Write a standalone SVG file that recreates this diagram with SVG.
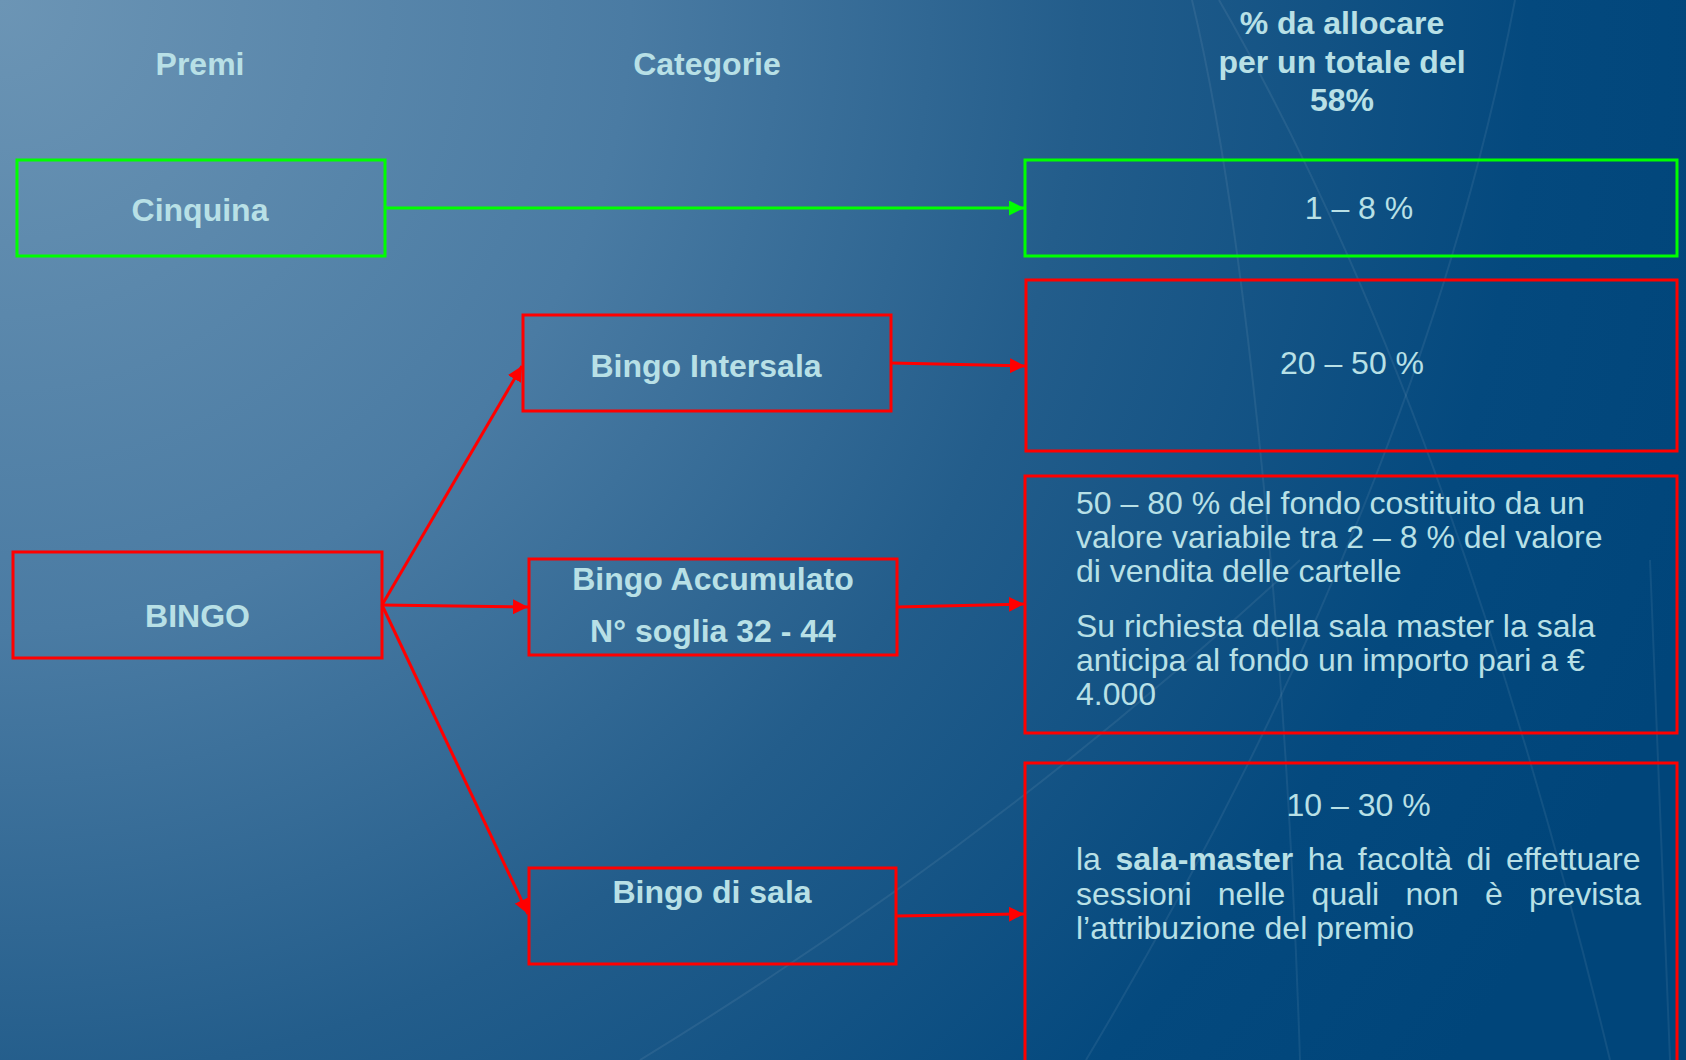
<svg xmlns="http://www.w3.org/2000/svg" width="1686" height="1060" viewBox="0 0 1686 1060">
<defs>
<radialGradient id="bg" gradientUnits="userSpaceOnUse" cx="0" cy="0" r="1800">
<stop offset="0" stop-color="#6c95b5"/>
<stop offset="0.35" stop-color="#4a7ba3"/>
<stop offset="0.6" stop-color="#235d8b"/>
<stop offset="0.85" stop-color="#04497e"/>
<stop offset="1" stop-color="#00457a"/>
</radialGradient>
<marker id="ag" viewBox="0 0 15 15" refX="15" refY="7.5" markerWidth="15" markerHeight="15" markerUnits="userSpaceOnUse" orient="auto"><path d="M0,0 L15,7.5 L0,15 z" fill="#00ff00"/></marker>
<marker id="ar" viewBox="0 0 15 15" refX="15" refY="7.5" markerWidth="15" markerHeight="15" markerUnits="userSpaceOnUse" orient="auto"><path d="M0,0 L15,7.5 L0,15 z" fill="#ff0000"/></marker>
</defs>
<style>
text{font-family:"Liberation Sans",Arial,sans-serif;font-size:32px;fill:#b8e0e6}
.b{font-weight:bold}
.c{text-anchor:middle}
.box{fill:none;stroke-width:3}
.g{stroke:#00ff00}
.r{stroke:#ff0000}
.deco{fill:none;stroke:#ffffff;stroke-opacity:0.07;stroke-width:2}
.ln{fill:none;stroke-width:3}
</style>
<rect width="1686" height="1060" fill="url(#bg)"/>
<g id="decor">
<path class="deco" d="M1192,0 C1240,200 1285,600 1300,1060"/>
<path class="deco" d="M1219,0 Q1450,400 1610,1060"/>
<path class="deco" d="M1515,0 Q1420,500 1086,1060"/>
<path class="deco" d="M640,1060 Q1000,840 1300,560"/>
<path class="deco" d="M1650,560 L1670,1060"/>
</g>
<g id="headers">
<text class="b c" x="200" y="75">Premi</text>
<text class="b c" x="707" y="75">Categorie</text>
<text class="b c" x="1342" y="34">% da allocare</text>
<text class="b c" x="1342" y="72.5">per un totale del</text>
<text class="b c" x="1342" y="111">58%</text>
</g>
<g id="connectors">
<line class="ln g" x1="385" y1="208" x2="1024" y2="208" marker-end="url(#ag)"/>
<line class="ln r" x1="891" y1="363" x2="1025" y2="366" marker-end="url(#ar)"/>
<line class="ln r" x1="382" y1="605" x2="522" y2="366" marker-end="url(#ar)"/>
<line class="ln r" x1="382" y1="605" x2="528" y2="607" marker-end="url(#ar)"/>
<line class="ln r" x1="382" y1="605" x2="528" y2="914" marker-end="url(#ar)"/>
<line class="ln r" x1="897" y1="607" x2="1024" y2="604" marker-end="url(#ar)"/>
<line class="ln r" x1="896" y1="916" x2="1024" y2="914" marker-end="url(#ar)"/>
</g>
<g id="cinquina">
<rect class="box g" x="17" y="160" width="368" height="96"/>
<text class="b c" x="200" y="221">Cinquina</text>
</g>
<g id="pct-cinquina">
<rect class="box g" x="1025" y="160" width="652" height="96"/>
<text class="c" x="1359" y="219">1 – 8 %</text>
</g>
<g id="bingo">
<rect class="box r" x="13" y="552" width="369" height="106"/>
<text class="b c" x="197.5" y="627">BINGO</text>
</g>
<g id="bingo-intersala">
<rect class="box r" x="523" y="315" width="368" height="96"/>
<text class="b c" x="706" y="377">Bingo Intersala</text>
</g>
<g id="pct-intersala">
<rect class="box r" x="1026" y="280" width="651" height="171"/>
<text class="c" x="1352" y="374">20 – 50 %</text>
</g>
<g id="bingo-accumulato">
<rect class="box r" x="529" y="559" width="368" height="96"/>
<text class="b c" x="713" y="590">Bingo Accumulato</text>
<text class="b c" x="713" y="642">N° soglia 32 - 44</text>
</g>
<g id="pct-accumulato">
<rect class="box r" x="1025" y="476" width="652" height="257"/>
<text x="1076" y="514">50 – 80 % del fondo costituito da un</text>
<text x="1076" y="547.5">valore variabile tra 2 – 8 % del valore</text>
<text x="1076" y="581.5">di vendita delle cartelle</text>
<text x="1076" y="636.5">Su richiesta della sala master la sala</text>
<text x="1076" y="670.5">anticipa al fondo un importo pari a €</text>
<text x="1076" y="704.5">4.000</text>
</g>
<g id="bingo-di-sala">
<rect class="box r" x="529" y="868" width="367" height="96"/>
<text class="b c" x="712" y="903">Bingo di sala</text>
</g>
<g id="pct-sala">
<rect class="box r" x="1025" y="763" width="652" height="310"/>
<text class="c" x="1358.6" y="816">10 – 30 %</text>
<text y="870"><tspan x="1076">la</tspan><tspan class="b" x="1115.4">sala-master</tspan><tspan x="1307.7">ha</tspan><tspan x="1357.8">facoltà</tspan><tspan x="1466.5">di</tspan><tspan x="1505.9">effettuare</tspan></text>
<text y="905"><tspan x="1076">sessioni</tspan><tspan x="1217.8">nelle</tspan><tspan x="1311.6">quali</tspan><tspan x="1405.4">non</tspan><tspan x="1485">è</tspan><tspan x="1529">prevista</tspan></text>
<text x="1076" y="939">l’attribuzione del premio</text>
</g>
</svg>
